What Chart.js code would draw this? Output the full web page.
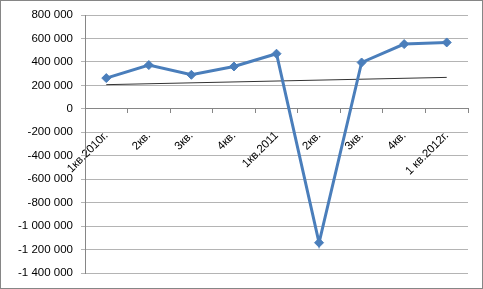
<!DOCTYPE html>
<html><head><meta charset="utf-8">
<script src="https://cdn.jsdelivr.net/npm/chart.js@4"></script>
<style>html,body{margin:0;padding:0;background:#fff}#wrap{position:relative;width:483px;height:289px}</style>
</head><body><div id="wrap"><canvas id="c" width="483" height="289"></canvas></div>
<script>
const categories = ["1кв.2010г.", "2кв.", "3кв.", "4кв.", "1кв.2011", "2кв.", "3кв.", "4кв.", "1 кв.2012г."];
const values = [262000, 373000, 290000, 361000, 470000, -1142000, 395000, 552000, 566000];
const trendValues = [206000, null, null, null, null, null, null, null, 268000];
const yMin = -1400000, yMax = 800000, yStep = 200000;

function fmt(v){
  const s = String(Math.abs(v)).replace(/\B(?=(\d{3})+(?!\d))/g, ' ');
  return (v < 0 ? '-' : '') + s;
}

const borderPlugin = {
  id: 'frame',
  afterDraw(chart){
    const ctx = chart.ctx;
    ctx.save();
    ctx.strokeStyle = '#868686';
    ctx.lineWidth = 1;
    ctx.strokeRect(0.5, 0.5, 482, 288);
    ctx.restore();
  }
};

new Chart(document.getElementById('c'), {
  type: 'line',
  data: {
    labels: categories,
    datasets: [
      {
        data: values,
        borderColor: '#4A7EBB',
        backgroundColor: '#4A7EBB',
        borderWidth: 3,
        pointStyle: 'rectRot',
        pointRadius: 4.5,
        pointBorderWidth: 1,
        pointBackgroundColor: '#4A7EBB',
        pointBorderColor: '#4A7EBB',
        tension: 0,
        order: 1
      },
      {
        data: trendValues,
        spanGaps: true,
        borderColor: '#333',
        borderWidth: 1,
        pointRadius: 0,
        tension: 0,
        order: 2
      }
    ]
  },
  plugins: [borderPlugin],
  options: {
    responsive: false,
    animation: false,
    devicePixelRatio: 1,
    layout: { padding: { top: 15, right: 15, bottom: 16, left: 0 } },
    plugins: { legend: { display: false }, tooltip: { enabled: false } },
    scales: {
      x: {
        type: 'category',
        position: { y: 0 },
        offset: true,
        grid: { offset: true, drawOnChartArea: false, drawTicks: true, tickLength: 4, color: '#868686' },
        border: { color: '#868686', width: 1 },
        ticks: {
          minRotation: 45, maxRotation: 45, autoSkip: false,
          padding: 16,
          color: '#000',
          font: { family: 'Liberation Sans', size: 11.5 }
        }
      },
      y: {
        min: yMin, max: yMax,
        afterFit(s){ s.width = 85; },
        grid: { color: '#b4b4b4', tickLength: 4, lineWidth: 1 },
        border: { color: '#868686', width: 1 },
        ticks: {
          stepSize: yStep,
          padding: 8,
          color: '#000',
          font: { family: 'Liberation Sans', size: 11.5 },
          callback: (v) => fmt(v)
        }
      }
    }
  }
});
</script></body></html>
